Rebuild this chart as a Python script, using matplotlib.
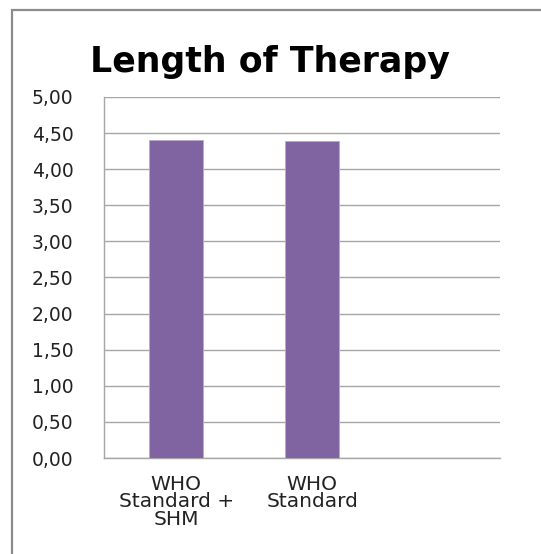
import matplotlib
matplotlib.use('Agg')
import matplotlib.pyplot as plt
from matplotlib.patches import Rectangle
from matplotlib.ticker import FuncFormatter

# therapy length per treatment arm
groups = ['WHO\nStandard +\nSHM', 'WHO\nStandard']
length_values = [4.40, 4.39]
yticks = [0.0, 0.5, 1.0, 1.5, 2.0, 2.5, 3.0, 3.5, 4.0, 4.5, 5.0]

plt.rcParams['font.family'] = ['DejaVu Sans']

fig = plt.figure(figsize=(5.41, 5.54), dpi=100)
W, H = 541, 554

# chart frame, runs off the right and bottom edges
fig.patches.append(Rectangle((12 / W, -0.1), 1.2, (1 - 10 / H) + 0.1,
                             transform=fig.transFigure, fill=False,
                             edgecolor='#8c8c8c', linewidth=1.6))

ax = fig.add_axes([104 / W, 1 - 458 / H, (500 - 104) / W, (458 - 97) / H])
x = list(range(len(groups)))
ax.bar(x, length_values, width=0.40, color='#8064A2', edgecolor='#b9a7d0',
       linewidth=0.6, zorder=3)

ax.set_xlim(-0.53, 2.38)
ax.set_ylim(0, 5.0)
ax.set_yticks(yticks)
ax.yaxis.set_major_formatter(FuncFormatter(lambda v, p: ('%.2f' % v).replace('.', ',')))
ax.set_xticks(x)
ax.set_xticklabels(groups, fontsize=14.5, linespacing=0.92, color='#222222')
ax.tick_params(axis='x', length=0, pad=12)
ax.tick_params(axis='y', length=0, pad=22, labelsize=13.5, labelcolor='#222222')

ax.grid(axis='y', color='#a6a6a6', linewidth=1.0, zorder=0)
for s in ['top', 'right']:
    ax.spines[s].set_visible(False)
ax.spines['left'].set_color('#a6a6a6')
ax.spines['bottom'].set_color('#a6a6a6')
ax.spines['left'].set_linewidth(1.0)
ax.spines['bottom'].set_linewidth(1.0)

fig.text(270 / W, 1 - 72 / H, 'Length of Therapy', ha='center', va='baseline',
         fontsize=25, fontweight='bold', color='black')

fig.savefig('out.png', dpi=100)
